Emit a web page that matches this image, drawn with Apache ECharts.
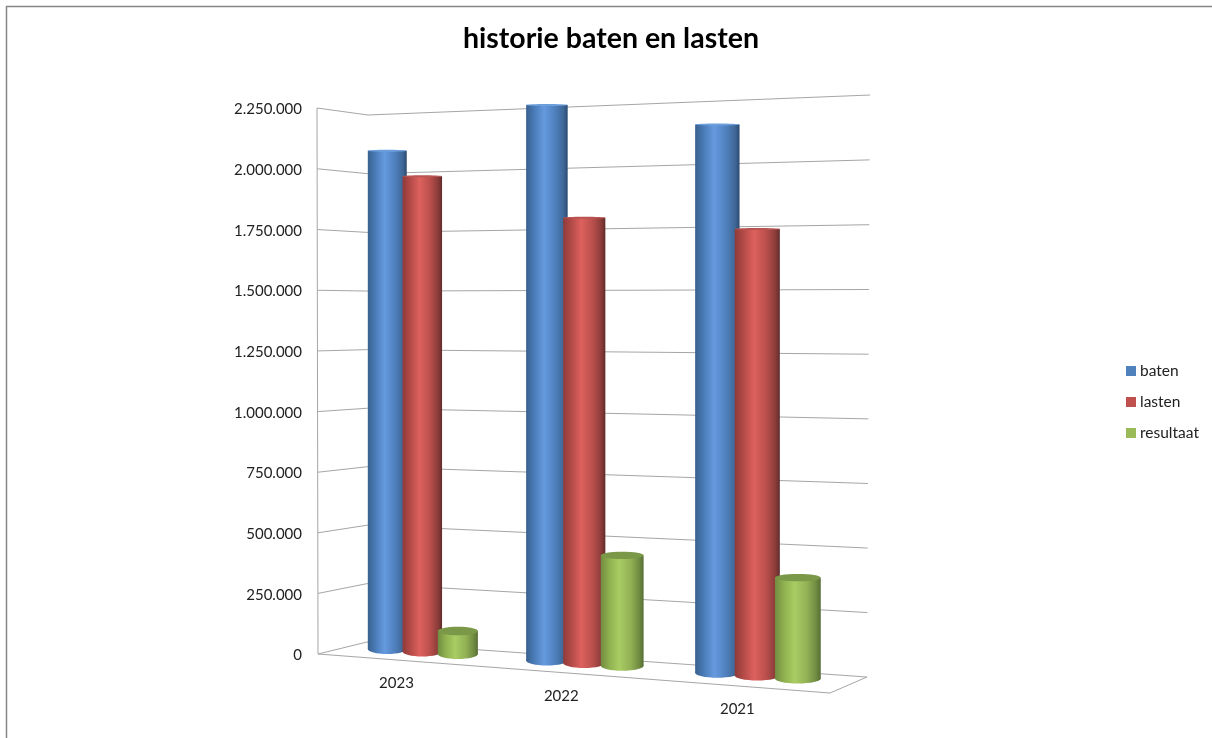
<!DOCTYPE html>
<html>
<head>
<meta charset="utf-8">
<title>historie baten en lasten</title>
<script src="https://cdn.jsdelivr.net/npm/echarts@6/dist/echarts.min.js"></script>
<style>
	html, body { margin: 0; padding: 0; background: #fff; }
	#chart { width: 1212px; height: 738px; }
</style>
</head>
<body>
<div id="chart"></div>
<script>
var years = ['2023', '2022', '2021'];
var baten = [2085000, 2250000, 2148000];
var lasten = [1975000, 1792000, 1738000];
var resultaat = [95000, 442000, 390000];
var gridTicks = [0, 250000, 500000, 750000, 1000000, 1250000, 1500000, 1750000, 2000000, 2250000];

// box corners on screen, order: bottom left, bottom right, top right, top left
var frontCorners = [[318, 654], [830, 693], [830, 90], [317, 108]];
var backCorners = [[367, 642], [867, 677], [870, 95], [368, 115]];
var gridBox = { left: 318, top: 108, width: 512, height: 546 };
var columnDepth = 0.65;
var clusterShift = -0.0105;
var seriesStep = 0.075;
var columnHalf = 0.042;

function lerp(a, b, t) {
	return a + (b - a) * t;
}

// unit square to quad, perspective
function planeAt(depth) {
	var q = frontCorners.map(function (p, i) {
		return [lerp(p[0], backCorners[i][0], depth), lerp(p[1], backCorners[i][1], depth)];
	});
	var dx1 = q[1][0] - q[2][0], dx2 = q[3][0] - q[2][0], sx = q[0][0] - q[1][0] + q[2][0] - q[3][0];
	var dy1 = q[1][1] - q[2][1], dy2 = q[3][1] - q[2][1], sy = q[0][1] - q[1][1] + q[2][1] - q[3][1];
	var den = dx1 * dy2 - dx2 * dy1;
	var g = (sx * dy2 - dx2 * sy) / den;
	var h = (dx1 * sy - sx * dy1) / den;
	var a = q[1][0] - q[0][0] + g * q[1][0], b = q[3][0] - q[0][0] + h * q[3][0];
	var d = q[1][1] - q[0][1] + g * q[1][1], e = q[3][1] - q[0][1] + h * q[3][1];
	return function (u, v) {
		var w = g * u + h * v + 1;
		return [(a * u + b * v + q[0][0]) / w, (d * u + e * v + q[0][1]) / w];
	};
}

var frontPlane = planeAt(0);
var backPlane = planeAt(1);
var columnPlane = planeAt(columnDepth);

// grid pixel to plane fraction
function toPlane(pt) {
	return [(pt[0] - gridBox.left) / gridBox.width, (gridBox.top + gridBox.height - pt[1]) / gridBox.height];
}

function edgeLine(points) {
	return {
		type: 'polyline',
		shape: { points: points },
		style: { fill: null, stroke: '#a6a6a6', lineWidth: 1 },
		silent: true
	};
}

function renderWall(params, api) {
	var v = toPlane(api.coord([0, api.value(0)]))[1];
	var children = [edgeLine([frontPlane(0, v), backPlane(0, v), backPlane(1, v)])];
	if (params.dataIndex === 0) {
		children.push(edgeLine([frontPlane(0, 0), frontPlane(0, 1)]));
		children.push(edgeLine([frontPlane(0, 0), frontPlane(1, 0), backPlane(1, 0)]));
	}
	return { type: 'group', children: children };
}

function renderYear(params, api) {
	var u = toPlane(api.coord([params.dataIndex, 0]))[0];
	var p = frontPlane(u, 0);
	return {
		type: 'text',
		style: {
			x: p[0],
			y: p[1] + 23.5,
			text: years[params.dataIndex],
			align: 'center',
			verticalAlign: 'middle',
			fill: '#222',
			font: '15px Lato'
		},
		silent: true
	};
}

function columnRenderer(seriesPos, stops, capColor) {
	return function (params, api) {
		var cat = api.value(0);
		var uv = toPlane(api.coord([cat, api.value(1)]));
		var u = uv[0] + clusterShift + seriesPos * seriesStep;
		var left = columnPlane(u - columnHalf, 0)[0];
		var right = columnPlane(u + columnHalf, 0)[0];
		var baseY = columnPlane(u, 0)[1];
		var topY = columnPlane(u, uv[1])[1];
		var cx = (left + right) / 2, rx = (right - left) / 2;
		var fill = new echarts.graphic.LinearGradient(0, 0, 1, 0, stops);
		var baseRy = 5;
		var topRy = Math.max(1, 4.5 - 5 * uv[1]);
		return {
			type: 'group',
			children: [
				{ type: 'ellipse', shape: { cx: cx, cy: baseY, rx: rx, ry: baseRy }, style: { fill: fill } },
				{ type: 'rect', shape: { x: left, y: topY, width: right - left, height: baseY - topY }, style: { fill: fill } },
				{ type: 'ellipse', shape: { cx: cx, cy: topY, rx: rx, ry: topRy }, style: { fill: capColor } }
			]
		};
	};
}

function pairs(values) {
	return values.map(function (val, i) {
		return [i, val];
	});
}

function gradient(edgeL, mid, light, midR, edgeR, dark) {
	return [
		{ offset: 0, color: edgeL },
		{ offset: 0.2, color: mid },
		{ offset: 0.43, color: light },
		{ offset: 0.7, color: midR },
		{ offset: 0.9, color: edgeR },
		{ offset: 1, color: dark }
	];
}

var myChart = echarts.init(document.getElementById('chart'));

myChart.setOption({
	backgroundColor: '#fff',
	animation: false,
	title: {
		text: 'historie baten en lasten',
		left: 606,
		top: 19,
		textAlign: 'center',
		textStyle: { fontFamily: 'Lato', fontSize: 28.5, fontWeight: 'bold', color: '#000' }
	},
	legend: {
		data: ['baten', 'lasten', 'resultaat'],
		orient: 'vertical',
		left: 1121,
		top: 357,
		itemWidth: 10,
		itemHeight: 10,
		itemGap: 13,
		icon: 'rect',
		textStyle: { fontFamily: 'Lato', fontSize: 15.5, lineHeight: 18, color: '#222', padding: [0, 0, 0, -1] }
	},
	grid: gridBox,
	xAxis: { type: 'category', data: years, show: false },
	yAxis: {
		type: 'value',
		min: 0,
		max: 2250000,
		interval: 250000,
		axisLine: { show: false },
		axisTick: { show: false },
		splitLine: { show: false },
		axisLabel: {
			margin: 16,
			formatter: function (val) {
				return '{t|' + String(val).replace(/\B(?=(\d{3})+$)/g, '.') + '}';
			},
			rich: {
				t: { fontFamily: 'Lato', fontSize: 15, color: '#222', padding: [3, 0, 0, 0] }
			}
		}
	},
	graphic: [{
		type: 'polyline',
		silent: true,
		shape: { points: [[6.5, 738], [6.5, 6.5], [1212, 6.5]] },
		style: { fill: null, stroke: '#868686', lineWidth: 1.5 }
	}],
	series: [
		{ type: 'custom', name: 'wand', silent: true, renderItem: renderWall, data: gridTicks.map(function (t) { return [t]; }), encode: { y: 0 } },
		{ type: 'custom', name: 'jaren', silent: true, renderItem: renderYear, data: pairs(baten), encode: { x: 0, y: 1 } },
		{
			type: 'custom',
			name: 'baten',
			itemStyle: { color: '#4f81bd' },
			renderItem: columnRenderer(-1, gradient('#39618f', '#4a7cb8', '#659adf', '#4f80bd', '#3f6797', '#2b4a70'), '#6c9fdc'),
			data: pairs(baten),
			encode: { x: 0, y: 1 }
		},
		{
			type: 'custom',
			name: 'lasten',
			itemStyle: { color: '#c0504d' },
			renderItem: columnRenderer(0, gradient('#8f3b39', '#b44b48', '#dd615d', '#b94f4c', '#8c3c3a', '#5f2c2b'), '#b95452'),
			data: pairs(lasten),
			encode: { x: 0, y: 1 }
		},
		{
			type: 'custom',
			name: 'resultaat',
			itemStyle: { color: '#9bbb59' },
			renderItem: columnRenderer(1, gradient('#718c40', '#90b150', '#a9cc63', '#92b155', '#6f8b41', '#576d34'), '#7a9848'),
			data: pairs(resultaat),
			encode: { x: 0, y: 1 }
		}
	]
});
</script>
</body>
</html>
